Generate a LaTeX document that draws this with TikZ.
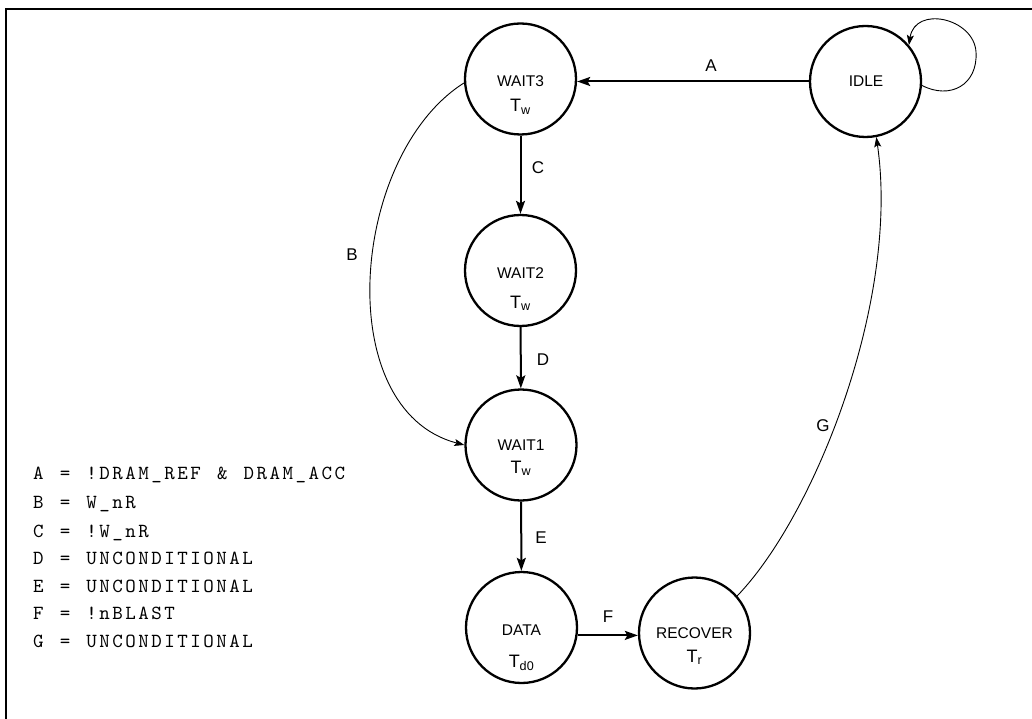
\documentclass[tikz,border=0pt]{standalone}
\usepackage{fontspec}
\setmainfont{Liberation Sans}
\usetikzlibrary{arrows.meta}
\newfontfamily\legfont{lmmono10-regular}[Extension=.otf,LetterSpace=12.5,WordSpace=1.24]
\begin{document}
\begin{tikzpicture}[x=1pt,y=-1pt,
  state/.style={circle,draw,line width=2.3pt,minimum size=111pt,inner sep=0pt},
  stxt/.style={font=\fontsize{15.5}{18}\selectfont,inner sep=0pt,anchor=base},
  ttxt/.style={font=\fontsize{18}{20}\selectfont,inner sep=0pt,anchor=base},
  elab/.style={font=\fontsize{17}{20}\selectfont,inner sep=0pt,anchor=base},
  tr/.style={line width=2pt,-{Stealth[length=13pt,width=9pt,inset=2.5pt]}},
  thintr/.style={line width=0.9pt,-{Stealth[length=10pt,width=7pt,inset=2pt]}},
  leg/.style={font=\legfont\fontsize{20}{22}\selectfont,anchor=base west,inner sep=0pt}]
\useasboundingbox (0,0) rectangle (1032,719);
\draw[line width=2pt] (6,719) -- (6,9) -- (1032,9);

% states
\node[state] (w3) at (520.5,79) {};
\node[stxt] (w3n) at (520.5,87) {WAIT3};
\node[ttxt] (w3t) at (520.5,112) {T\textsubscript{w}};

\node[state] (idle) at (865.5,81.5) {};
\node[stxt] (idlen) at (866,87) {IDLE};

\node[state] (w2) at (520.5,270.5) {};
\node[stxt] (w2n) at (520.5,278) {WAIT2};
\node[ttxt] (w2t) at (520.5,308) {T\textsubscript{w}};

\node[state] (w1) at (521,445) {};
\node[stxt] (w1n) at (521,450) {WAIT1};
\node[ttxt] (w1t) at (521,473) {T\textsubscript{w}};

\node[state] (data) at (521.5,627.5) {};
\node[stxt] (datan) at (521.5,635) {DATA};
\node[ttxt] (datat) at (521.5,667) {T\textsubscript{d0}};

\node[state] (rec) at (694.5,633) {};
\node[stxt] (recn) at (694.5,638) {RECOVER};
\node[ttxt] (rect) at (694.5,662) {T\textsubscript{r}};

% transitions
\draw[tr] (idle.west) -- (idle.west -| w3.east);
\draw[tr] (w3) -- (w2);
\draw[tr] (w2) -- (w1);
\draw[tr] (w1) -- (data);
\draw[tr] (data.-8) -- (data.-8 -| rec.west);
\draw[thintr] (w3.184) .. controls (350,155) and (330,410) .. (w1.west);
\draw[thintr] (rec.41) .. controls (815,515) and (900,300) .. (idle.-79);
\draw[thintr] (idle.-4) .. controls (950,100) and (978,85) .. (976,52)
  .. controls (974,18) and (915,5) .. (idle.40);

% edge labels
\node[elab] (la) at (711,72) {A};
\node[elab] (lb) at (352,260) {B};
\node[elab] (lc) at (538,174) {C};
\node[elab] (ld) at (543,365) {D};
\node[elab] (le) at (541,543) {E};
\node[elab] (lf) at (608,622) {F};
\node[elab] (lg) at (823,431) {G};

% legend
\node[leg] (l1) at (33,479) {A = !DRAM\_REF \& DRAM\_ACC};
\node[leg] (l2) at (33,508) {B = W\_nR};
\node[leg] (l3) at (33,537) {C = !W\_nR};
\node[leg] (l4) at (33,564) {D = UNCONDITIONAL};
\node[leg] (l5) at (33,592) {E = UNCONDITIONAL};
\node[leg] (l6) at (33,619) {F = !nBLAST};
\node[leg] (l7) at (33,647) {G = UNCONDITIONAL};
\end{tikzpicture}
\end{document}
